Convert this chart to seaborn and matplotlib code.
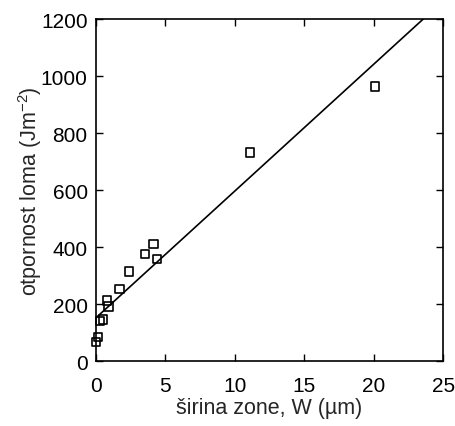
import matplotlib
matplotlib.use("Agg")
import matplotlib.pyplot as plt
import seaborn as sns
import pandas as pd

# data
zone_width = [0.0, 0.12, 0.3, 0.5, 0.8, 0.9, 1.7, 2.4, 3.55, 4.15, 4.4, 11.1, 20.1]
toughness = [68, 85, 140, 146, 213, 191, 254, 314, 375, 412, 358, 732, 964]
fit_x = [0, 25]
fit_y = [152, 1264]
x_ticks = [0, 5, 10, 15, 20, 25]
y_ticks = [0, 200, 400, 600, 800, 1000, 1200]

sns.set_theme(style="ticks")
plt.rcParams['font.family'] = ['Liberation Sans', 'DejaVu Sans']
plt.rcParams['mathtext.fontset'] = 'custom'
plt.rcParams['mathtext.rm'] = 'Liberation Sans'
plt.rcParams['mathtext.it'] = 'Liberation Sans'

df = pd.DataFrame({"w": zone_width, "g": toughness})
fit = pd.DataFrame({"w": fit_x, "g": fit_y})

fig = plt.figure(figsize=(4.55, 4.27), dpi=100)
ax = fig.add_axes([0.211, 0.152, 0.763, 0.801])

sns.lineplot(data=fit, x="w", y="g", ax=ax, color="black", linewidth=1.2)
sns.scatterplot(data=df, x="w", y="g", ax=ax, marker="s", s=36,
                facecolor="none", edgecolor="black", linewidth=1.2, zorder=3,
                clip_on=False)

ax.set_xlim(0, 25)
ax.set_ylim(0, 1200)
ax.set_xticks(x_ticks)
ax.set_yticks(y_ticks)
ax.tick_params(direction="in", top=True, right=True, length=5, width=1,
               labelsize=15, colors="black", pad=6)
ax.tick_params(axis="x", pad=11)
for s in ax.spines.values():
    s.set_color("black")
    s.set_linewidth(1.2)
ax.set_xlabel("širina zone, W (µm)", fontsize=15.5, labelpad=1)
ax.set_ylabel("otpornost loma (Jm$^{-2}$)", fontsize=15.5, labelpad=-2)

fig.savefig("out.png", dpi=100)
